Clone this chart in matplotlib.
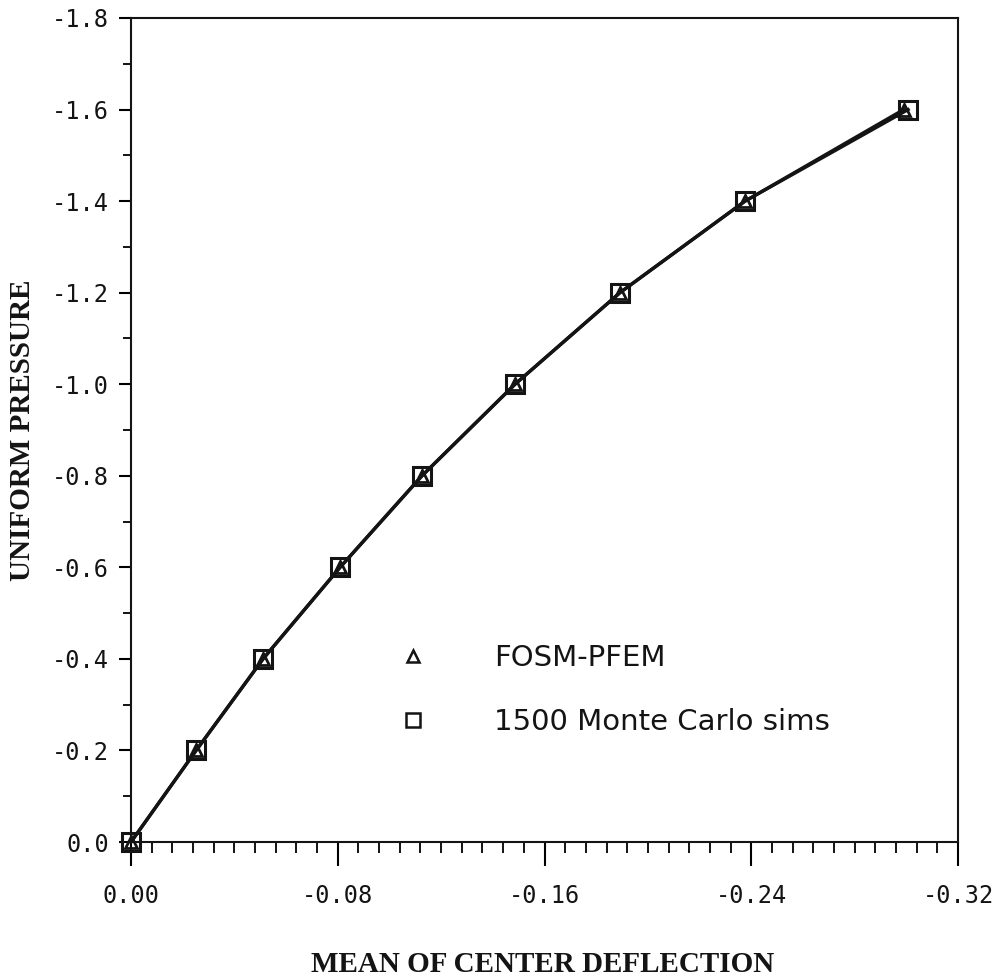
import numpy as np
import matplotlib.pyplot as plt
from matplotlib.lines import Line2D
from matplotlib.ticker import MultipleLocator, FormatStrFormatter

# load steps and mean centre deflection
pressure = [0.0, -0.2, -0.4, -0.6, -0.8, -1.0, -1.2, -1.4, -1.6]
defl_fosm = [0.0, -0.0252, -0.0511, -0.0809, -0.1126, -0.1486, -0.1892, -0.2376, -0.2990]
defl_mc = [0.0, -0.0252, -0.0511, -0.0809, -0.1126, -0.1486, -0.1892, -0.2376, -0.3007]

lab_fosm = 'FOSM-PFEM'
lab_mc = '1500 Monte Carlo sims'

mono = 'DejaVu Sans Mono'
serif = 'Liberation Serif'
sans = 'DejaVu Sans'
ink = '#141414'

fig = plt.figure(figsize=(10.02, 9.8), dpi=100)
ax = fig.add_axes([131 / 1002, 1 - 842 / 980, 827 / 1002, 824 / 980])

ax.plot(defl_mc, pressure, color=ink, lw=2.4, zorder=2, clip_on=False)
ax.plot(defl_fosm, pressure, color=ink, lw=2.4, zorder=2, clip_on=False)
ax.plot(defl_mc, pressure, ls='none', marker='s', ms=13, mfc='none',
        mec=ink, mew=2.2, zorder=3, clip_on=False)
ax.plot(defl_fosm, pressure, ls='none', marker='^', ms=9, mfc='none',
        mec=ink, mew=2.0, zorder=3, clip_on=False)

ax.set_xlim(0, -0.32)
ax.set_ylim(0, -1.8)

ax.xaxis.set_major_locator(MultipleLocator(0.08))
ax.xaxis.set_minor_locator(MultipleLocator(0.008))
ax.yaxis.set_major_locator(MultipleLocator(0.2))
ax.yaxis.set_minor_locator(MultipleLocator(0.1))
ax.xaxis.set_major_formatter(FormatStrFormatter('%.2f'))
ax.yaxis.set_major_formatter(FormatStrFormatter('%.1f'))

ax.tick_params(axis='x', which='major', direction='out', length=17, width=1.5, pad=13)
ax.tick_params(axis='x', which='minor', direction='out', length=8, width=1.3)
ax.tick_params(axis='y', which='major', direction='out', length=9, width=1.5, pad=7)
ax.tick_params(axis='y', which='minor', direction='out', length=6, width=1.3)
for lab in ax.get_xticklabels() + ax.get_yticklabels():
    lab.set_fontfamily(mono)
    lab.set_fontsize(17)
    lab.set_color(ink)
for sp in ax.spines.values():
    sp.set_linewidth(1.5)
    sp.set_color(ink)

fig.text(543 / 1002, 1 - 964 / 980, 'MEAN OF CENTER DEFLECTION', ha='center', va='center',
         fontfamily=serif, fontweight='bold', fontsize=21, color=ink)
fig.text(23 / 1002, 1 - 430 / 980, 'UNIFORM PRESSURE', ha='center', va='center', rotation=90,
         fontfamily=serif, fontweight='bold', fontsize=21, color=ink)

handles = [
    Line2D([], [], ls='none', marker='^', ms=8, mfc='none', mec=ink, mew=1.8),
    Line2D([], [], ls='none', marker='s', ms=10, mfc='none', mec=ink, mew=1.8),
]
fig.legend(handles, [lab_fosm, lab_mc], loc='center left',
           bbox_to_anchor=(398 / 1002, 1 - 690 / 980), frameon=False,
           prop={'family': sans, 'size': 21}, handlelength=1.0, handletextpad=2.3,
           labelspacing=1.25, borderpad=0, borderaxespad=0, labelcolor=ink)

fig.savefig('out.png', dpi=100)
